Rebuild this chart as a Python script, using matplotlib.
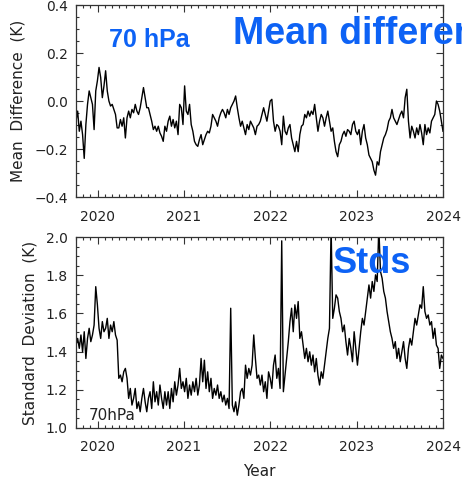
import numpy as np
import matplotlib
matplotlib.use('Agg')
import matplotlib.pyplot as plt
from matplotlib.ticker import MultipleLocator

# Mean difference (K) at 70 hPa, read roughly weekly from Oct 2019 to end of 2023
mean_diff = [
    -0.084, -0.042, -0.126, -0.084, -0.140, -0.239, -0.098, -0.014, 0.042, 0.014,
    -0.014, -0.119, 0.042, 0.084, 0.140, 0.098, 0.014, 0.063, 0.126, 0.042,
    0.0, -0.021, -0.014, -0.035, -0.056, -0.112, -0.112, -0.077, -0.105, -0.070,
    -0.154, -0.070, -0.042, -0.070, -0.035, -0.049, -0.014, -0.042, -0.056, -0.028,
    0.014, 0.056, 0.014, -0.028, -0.028, -0.056, -0.084, -0.119, -0.105, -0.126,
    -0.105, -0.133, -0.147, -0.168, -0.105,
    -0.126, -0.084, -0.063, -0.105, -0.077, -0.112, -0.084, -0.140, -0.014, -0.028,
    -0.098, 0.063, -0.042, -0.056, -0.014, -0.098, -0.126, -0.168, -0.182, -0.189,
    -0.161, -0.140, -0.182, -0.161, -0.140, -0.126, -0.133, -0.105, -0.056, -0.070,
    -0.084, -0.105, -0.070, -0.049, -0.035, -0.049, -0.070, -0.035, -0.056, -0.028,
    -0.014, 0.0, 0.021, -0.028, -0.070, -0.105, -0.084, -0.112, -0.140, -0.098,
    -0.119, -0.084, -0.098, -0.112, -0.140, -0.105, -0.098,
    -0.084, -0.056, -0.028, -0.056, -0.084, -0.042, 0.0, 0.007, -0.084, -0.126,
    -0.098, -0.105, -0.126, -0.182, -0.063, -0.126, -0.140, -0.112, -0.098, -0.154,
    -0.182, -0.211, -0.168, -0.211, -0.140, -0.105, -0.098, -0.056, -0.070, -0.042,
    -0.063, -0.042, -0.056, -0.014, -0.070, -0.126, -0.084, -0.056, -0.070, -0.105,
    -0.070, -0.042, -0.084, -0.126, -0.112, -0.168, -0.211, -0.232, -0.182, -0.168,
    -0.140, -0.126, -0.147, -0.119, -0.126, -0.140, -0.098,
    -0.084, -0.126, -0.140, -0.119, -0.182, -0.126, -0.098, -0.154, -0.182, -0.225,
    -0.239, -0.253, -0.288, -0.309, -0.253, -0.267, -0.211, -0.182, -0.154, -0.140,
    -0.119, -0.084, -0.070, -0.035, -0.070, -0.084, -0.098, -0.077, -0.056, -0.042,
    -0.070, 0.014, 0.049, -0.084, -0.154, -0.105, -0.126, -0.154, -0.112, -0.140,
    -0.098, -0.133, -0.182, -0.098, -0.140, -0.112, -0.133, -0.084, -0.070, -0.056,
    0.0, -0.014, -0.042, -0.084, -0.126,
]

# Standard deviation (K), same period
std_dev = [
    1.434, 1.469, 1.417, 1.487, 1.399, 1.504, 1.364, 1.469, 1.522, 1.452,
    1.487, 1.539, 1.740, 1.645, 1.522, 1.469, 1.557, 1.504, 1.522, 1.574,
    1.469, 1.539, 1.504, 1.557, 1.487, 1.460, 1.260, 1.277, 1.242, 1.294,
    1.312, 1.260, 1.155, 1.207, 1.120, 1.155, 1.207, 1.102, 1.137, 1.085,
    1.155, 1.207, 1.137, 1.085, 1.155, 1.190, 1.102, 1.242, 1.137, 1.190,
    1.120, 1.225, 1.155, 1.102, 1.190,
    1.120, 1.190, 1.102, 1.207, 1.137, 1.242, 1.172, 1.225, 1.312, 1.207,
    1.242, 1.190, 1.260, 1.155, 1.225, 1.172, 1.242, 1.190, 1.260, 1.172,
    1.225, 1.364, 1.242, 1.355, 1.207, 1.294, 1.190, 1.260, 1.155, 1.207,
    1.172, 1.225, 1.155, 1.190, 1.137, 1.172, 1.120, 1.155, 1.102, 1.627,
    1.120, 1.085, 1.137, 1.067, 1.120, 1.190, 1.207, 1.155, 1.329, 1.260,
    1.312, 1.277, 1.329, 1.487, 1.364, 1.260, 1.277,
    1.225, 1.277, 1.190, 1.242, 1.155, 1.294, 1.260, 1.207, 1.329, 1.382,
    1.260, 1.312, 1.207, 1.980, 1.190, 1.277, 1.364, 1.452, 1.557, 1.627,
    1.504, 1.645, 1.574, 1.662, 1.469, 1.504, 1.434, 1.364, 1.417, 1.347,
    1.399, 1.329, 1.382, 1.294, 1.364, 1.277, 1.225, 1.294, 1.260, 1.329,
    1.399, 1.469, 1.522, 2.050, 1.574, 1.627, 1.697, 1.680, 1.610, 1.574,
    1.504, 1.539, 1.452, 1.382, 1.469, 1.417, 1.347,
    1.504, 1.417, 1.329, 1.417, 1.504, 1.574, 1.539, 1.610, 1.680, 1.749,
    1.680, 1.767, 1.715, 1.802, 1.767, 2.050, 1.820, 1.784, 1.715, 1.680,
    1.610, 1.557, 1.504, 1.469, 1.417, 1.452, 1.364, 1.417, 1.347, 1.399,
    1.452, 1.364, 1.312, 1.417, 1.469, 1.434, 1.504, 1.574, 1.539, 1.592,
    1.645, 1.627, 1.740, 1.610, 1.574, 1.592, 1.539, 1.557, 1.469, 1.522,
    1.434, 1.417, 1.312, 1.382, 1.364,
]

year_ticks = [2020, 2021, 2022, 2023, 2024]
t_start, t_end = 2019.75, 2024.0

# decimal-year time axis for the samples
t_md = np.linspace(t_start, t_end, len(mean_diff))
t_sd = np.linspace(t_start, t_end, len(std_dev))

plt.rcParams['font.family'] = ['DejaVu Sans']
fig = plt.figure(figsize=(4.62, 4.83), dpi=100)

frame_col = '#333333'
blue = '#0d62f5'


def style_axis(ax, ylo, yhi, ymaj):
    ax.set_xlim(t_start, t_end)
    ax.set_ylim(ylo, yhi)
    ax.set_xticks(year_ticks)
    ax.xaxis.set_minor_locator(MultipleLocator(1 / 12))
    ax.yaxis.set_major_locator(MultipleLocator(ymaj))
    ax.yaxis.set_minor_locator(MultipleLocator(0.05))
    ax.tick_params(which='both', direction='in', top=True, right=True,
                   colors=frame_col, labelcolor='#222222', width=0.8)
    ax.tick_params(which='major', length=5, labelsize=10)
    ax.tick_params(which='minor', length=2.5)
    ax.tick_params(axis='x', pad=9)
    ax.tick_params(axis='y', pad=6)
    for s in ax.spines.values():
        s.set_color(frame_col)
        s.set_linewidth(0.9)


# top panel: mean difference
ax1 = fig.add_axes([0.1645, 0.5921, 0.7944, 0.3975])
ax1.plot(t_md, mean_diff, color='black', lw=1.0)
style_axis(ax1, -0.4, 0.4, 0.2)
ax1.set_yticks([-0.4, -0.2, 0.0, 0.2, 0.4])
ax1.set_yticklabels(['\u22120.4', '\u22120.2', '0.0', '0.2', '0.4'])
ax1.set_ylabel('Mean  Difference  (K)', fontsize=11, color='#222222', labelpad=6)
ax1.text(0.09, 0.82, '70 hPa', transform=ax1.transAxes, color=blue,
         fontsize=18, fontweight='bold', family='Liberation Sans', va='center')
# title text runs past the right edge, as in the original figure
fig.text(233 / 462, 1 - 34 / 483, 'Mean difference', color=blue, fontsize=27,
         fontweight='bold', family='Liberation Sans', va='center')

# bottom panel: standard deviation
ax2 = fig.add_axes([0.1645, 0.1139, 0.7944, 0.3954])
ax2.plot(t_sd, std_dev, color='black', lw=1.0)
style_axis(ax2, 1.0, 2.0, 0.2)
ax2.set_ylabel('Standard  Deviation  (K)', fontsize=11, color='#222222', labelpad=6)
ax2.set_xlabel('Year', fontsize=11, color='#222222', labelpad=7)
ax2.text(0.035, 0.065, '70hPa', transform=ax2.transAxes, color='#222222',
         fontsize=11, va='center')
ax2.text(0.70, 0.86, 'Stds', transform=ax2.transAxes, color=blue, fontsize=26,
         fontweight='bold', family='Liberation Sans', va='center')

fig.savefig('out.png', dpi=100)
